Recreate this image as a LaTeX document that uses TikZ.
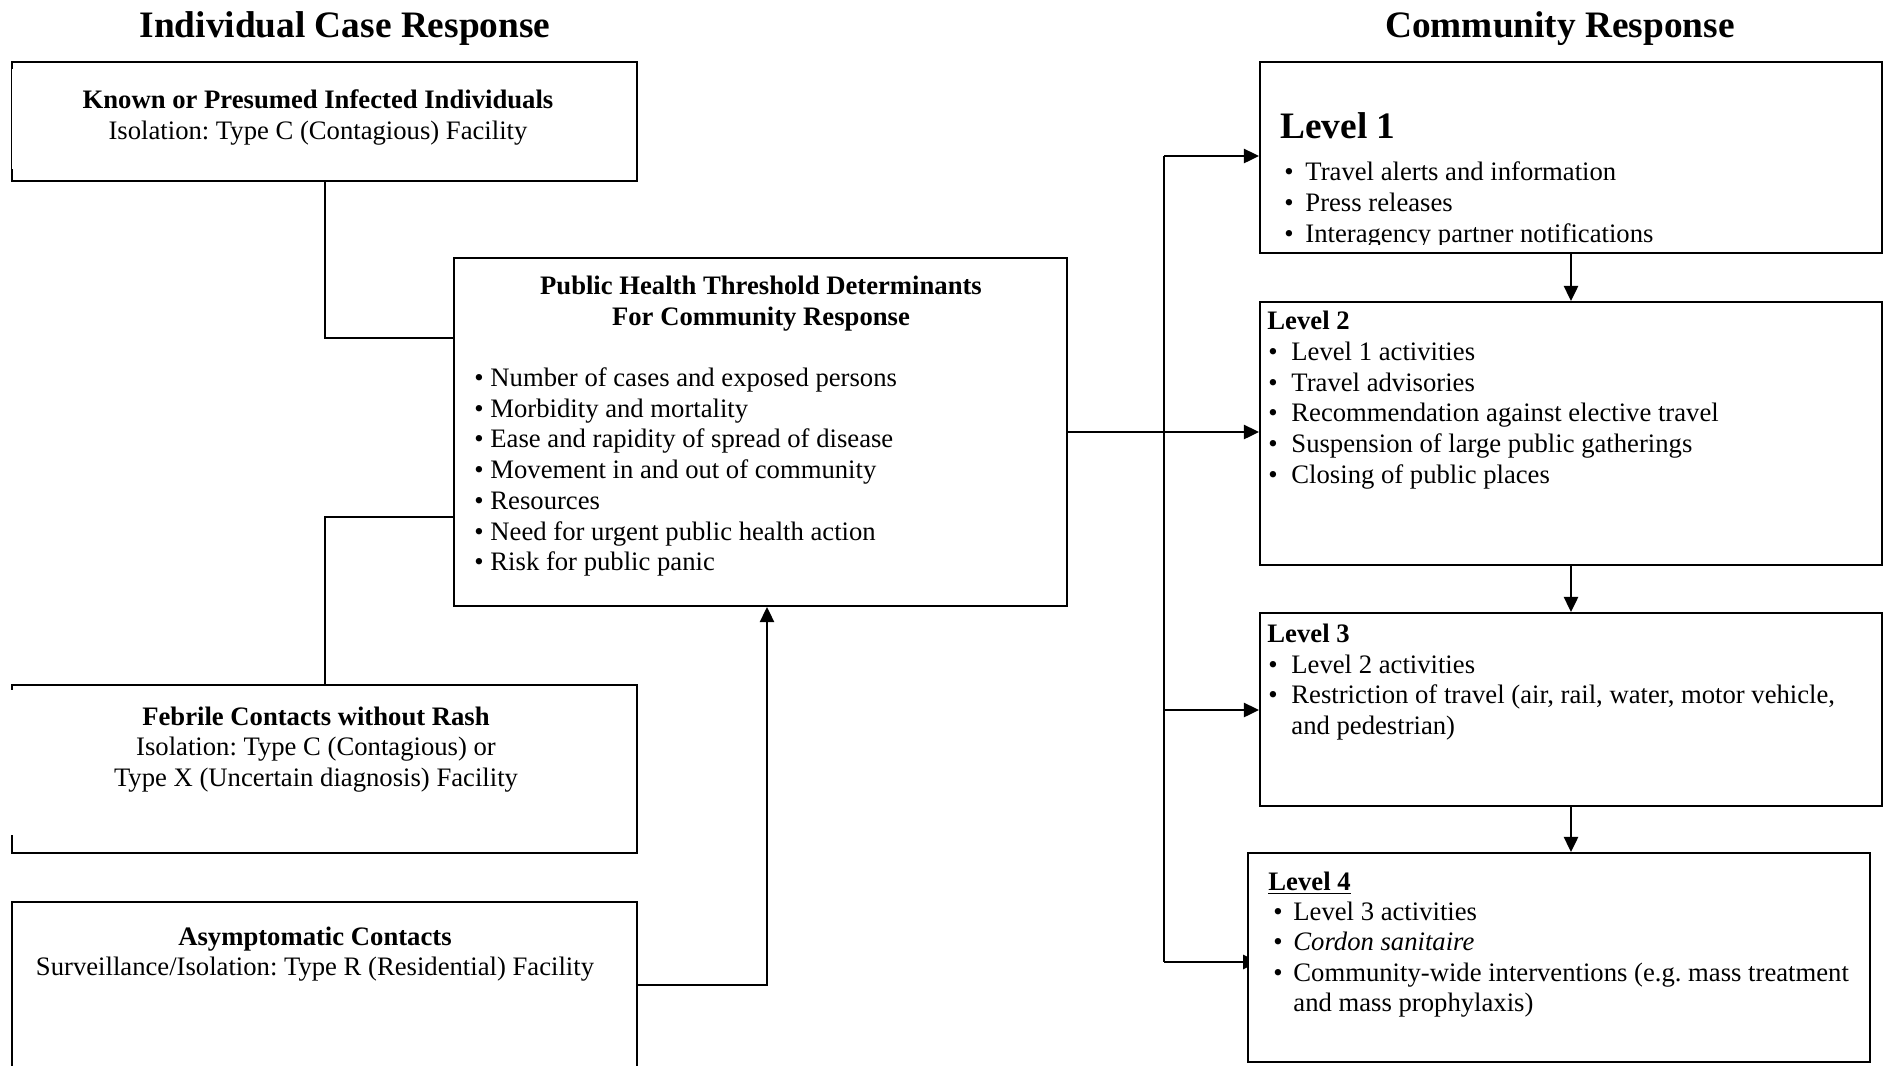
\documentclass[tikz,border=0pt]{standalone}
\usepackage{fontspec}
\setmainfont{Liberation Serif}
\usetikzlibrary{arrows.meta,fit,backgrounds}
\frenchspacing

% fixed-width slot holding a list bullet
\newcommand\bulletslot[1]{\makebox[#1][l]{•}}

\begin{document}
\begin{tikzpicture}[x=0.45pt,y=-0.45pt,
  font=\fontsize{12}{13.8}\selectfont,
  frame/.style={draw=black, line width=0.9pt, fill=white, inner sep=0pt},
  openframe/.style={draw=none, fill=white, inner sep=0pt},
  edge/.style={draw=black, line width=0.9pt},
  arr/.style={edge, -{Triangle[length=6.8pt,width=6.4pt]}},
  lbl/.style={inner sep=0pt, anchor=base west},
  clbl/.style={inner sep=0pt, anchor=base},
  boldlbl/.style={clbl, font=\fontsize{12}{13.8}\selectfont\bfseries},
  head/.style={inner sep=0pt, anchor=base, font=\fontsize{16.8}{20}\selectfont\bfseries}]

\useasboundingbox (0,0) rectangle (1884,1065);
\clip (0,0) rectangle (1884,1065);

% column headings
\node[head] (titleL) at (345,37) {Individual Case Response};
\node[head] (titleR) at (1560,37) {Community Response};

% ---------- left column ----------
\node[openframe, fit={(12,62) (637,181)}] (known) {};
\draw[edge] (known.north west) ++(0,7) -- (known.north west) -- (known.north east)
  -- (known.south east) -- (known.south west) -- ++(0,-12);
\draw[black, line width=0.5pt] (known.north west) -- (known.south west);
\node[boldlbl] (knownT) at (318,108) {Known or Presumed Infected Individuals};
\node[clbl] (knownS) at (318,139) {Isolation: Type C (Contagious) Facility};

\node[openframe, fit={(12,685) (637,853)}] (febrile) {};
\draw[edge] (febrile.north west) ++(0,5) -- (febrile.north west) -- (febrile.north east)
  -- (febrile.south east) -- (febrile.south west) -- ++(0,-18);
\node[boldlbl] (febT) at (316,725) {Febrile Contacts without Rash};
\node[clbl] (febS1) at (316,755) {Isolation: Type C (Contagious) or};
\node[clbl] (febS2) at (316,786) {Type X (Uncertain diagnosis) Facility};

\node[openframe, fit={(12,902) (637,1090)}] (asym) {};
\draw[edge] (asym.south west) -- (asym.north west) -- (asym.north east) -- (asym.south east);
\node[boldlbl] (asymT) at (315,945) {Asymptomatic Contacts};
\node[clbl] (asymS) at (315,975) {Surveillance/Isolation: Type R (Residential) Facility};

% ---------- threshold determinants ----------
\node[frame, fit={(454,258) (1067,606)}] (central) {};
\node[boldlbl] (cenT1) at (761,294) {Public Health Threshold Determinants};
\node[boldlbl] (cenT2) at (761,325) {For Community Response};
\node[lbl] (cen1) at (474,386) {• Number of cases and exposed persons};
\node[lbl] (cen2) at (474,417) {• Morbidity and mortality};
\node[lbl] (cen3) at (474,447) {• Ease and rapidity of spread of disease};
\node[lbl] (cen4) at (474,478) {• Movement in and out of community};
\node[lbl] (cen5) at (474,509) {• Resources};
\node[lbl] (cen6) at (474,540) {• Need for urgent public health action};
\node[lbl] (cen7) at (474,570) {• Risk for public panic};

% ---------- right column ----------
\node[frame, fit={(1260,62) (1882,253)}] (lvl1) {};
\node[frame, fit={(1260,302) (1882,565)}] (lvl2) {};
\node[frame, fit={(1260,613) (1882,806)}] (lvl3) {};
\node[frame, fit={(1248,853) (1870,1062)}] (lvl4) {};

\begin{scope}
  \clip (1262,64) rectangle (1880,244);
  \node[lbl, font=\fontsize{16.8}{20}\selectfont\bfseries] (l1T) at (1280,138) {Level 1};
  \node[lbl] (l1a) at (1284,180) {\bulletslot{9.45pt}Travel alerts and information};
  \node[lbl] (l1b) at (1284,211) {\bulletslot{9.45pt}Press releases};
  \node[lbl] (l1c) at (1284,242) {\bulletslot{9.45pt}Interagency partner notifications};
\end{scope}

\node[lbl, font=\fontsize{12}{13.8}\selectfont\bfseries] (l2T) at (1267,329) {Level 2};
\node[lbl] (l2a) at (1268,360) {\bulletslot{10.35pt}Level 1 activities};
\node[lbl] (l2b) at (1268,391) {\bulletslot{10.35pt}Travel advisories};
\node[lbl] (l2c) at (1268,421) {\bulletslot{10.35pt}Recommendation against elective travel};
\node[lbl] (l2d) at (1268,452) {\bulletslot{10.35pt}Suspension of large public gatherings};
\node[lbl] (l2e) at (1268,483) {\bulletslot{10.35pt}Closing of public places};

\node[lbl, font=\fontsize{12}{13.8}\selectfont\bfseries] (l3T) at (1267,642) {Level 3};
\node[lbl] (l3a) at (1268,673) {\bulletslot{10.35pt}Level 2 activities};
\node[lbl] (l3b) at (1268,703) {\bulletslot{10.35pt}Restriction of travel (air, rail, water, motor vehicle,};
\node[lbl] (l3c) at (1291,734) {and pedestrian)};

\node[lbl, font=\fontsize{12}{13.8}\selectfont\bfseries] (l4T) at (1268,890) {\underline{Level 4}};
\node[lbl] (l4a) at (1273,920) {\bulletslot{9pt}Level 3 activities};
\node[lbl] (l4b) at (1273,950) {\bulletslot{9pt}\textit{Cordon sanitaire}};
\node[lbl] (l4c) at (1273,981) {\bulletslot{9pt}Community-wide interventions (e.g. mass treatment};
\node[lbl] (l4d) at (1293,1011) {and mass prophylaxis)};

% ---------- connectors ----------
\begin{scope}[on background layer]
  \coordinate (joinKnown) at (0,338);
  \coordinate (joinFebrile) at (0,517);
  \coordinate (joinAsym) at (767,985);
  \draw[edge] (known.south) |- (central.west |- joinKnown);
  \draw[edge] (febrile.north) |- (central.west |- joinFebrile);
  \draw[arr] (asym.east |- joinAsym) -| (joinAsym |- central.south);

  \draw[arr] (central.east) -- (central.east -| lvl2.west);

  \coordinate (busTop) at (1164,156);
  \coordinate (busMid) at (1164,710);
  \coordinate (busBot) at (1164,962);
  \draw[edge] (busTop) -- (busBot);
  \draw[arr] (busTop) -- (busTop -| lvl1.west);
  \draw[arr] (busMid) -- (busMid -| lvl3.west);
  \draw[arr, shorten >=-5pt] (busBot) -- (busBot -| lvl4.west);

  \draw[arr] (lvl1.south) -- (lvl2.north);
  \draw[arr] (lvl2.south) -- (lvl3.north);
  \draw[arr] (lvl3.south) -- (lvl3.south |- lvl4.north);
\end{scope}

\end{tikzpicture}
\end{document}
